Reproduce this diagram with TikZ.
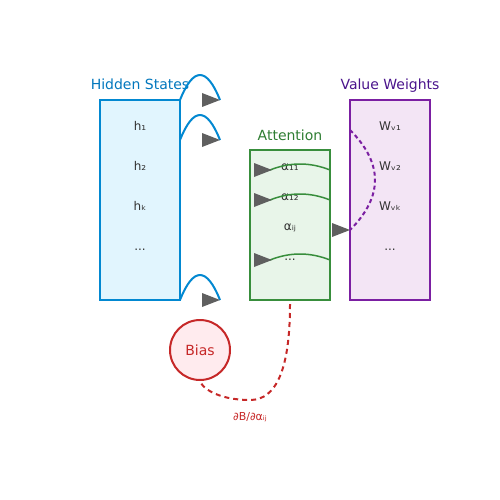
\documentclass[tikz,border=0pt]{standalone}
\usepackage{fontspec}
\setmainfont{DejaVu Sans}
\usepackage{tikz}

\definecolor{hsline}{HTML}{0288D1}
\definecolor{hsfill}{HTML}{E1F5FE}
\definecolor{hstext}{HTML}{0277BD}
\definecolor{atline}{HTML}{388E3C}
\definecolor{atfill}{HTML}{E8F5E9}
\definecolor{attext}{HTML}{2E7D32}
\definecolor{vwline}{HTML}{7B1FA2}
\definecolor{vwfill}{HTML}{F3E5F5}
\definecolor{vwtext}{HTML}{4A148C}
\definecolor{biline}{HTML}{C62828}
\definecolor{bifill}{HTML}{FFEBEE}
\definecolor{labeltext}{HTML}{333333}
\definecolor{headgray}{HTML}{5F5F5F}

\tikzset{
  colbox/.style={line width=2pt, minimum width=80pt, inner sep=0pt, outer sep=0pt},
  title/.style={anchor=base, inner sep=0pt, font=\fontsize{14}{16}\selectfont},
  entry/.style={inner sep=0pt, text height=9pt, text depth=2pt, text=labeltext, font=\fontsize{12}{14}\selectfont},
  curve/.style={line width=2pt},
}

% gray triangle with its tip at #1
\newcommand{\markhead}[1]{\fill[headgray] (#1) -- ++(-18,-7) -- ++(0,14) -- cycle;}

\begin{document}
\begin{tikzpicture}[x=1pt, y=-1pt]
	\useasboundingbox (0,0) rectangle (500,500);
	%boxes
	\node (hidden)[colbox, draw=hsline, fill=hsfill, minimum height=200pt] at (140,200) {};
	\node (attention)[colbox, draw=atline, fill=atfill, minimum height=150pt] at (290,225) {};
	\node (value)[colbox, draw=vwline, fill=vwfill, minimum height=200pt] at (390,200) {};
	\node (bias)[circle, draw=biline, fill=bifill, line width=2pt, minimum size=60pt, inner sep=0pt, outer sep=0pt,
	             text=biline, font=\fontsize{14}{16}\selectfont] at (200,350) {Bias};
	
	%titles
	\node (hstitle)[title, text=hstext] at (140,90)  {Hidden States};
	\node (attitle)[title, text=attext] at (290,140) {Attention};
	\node (vwtitle)[title, text=vwtext] at (390,90)  {Value Weights};
	
	%entries
	\node (h1)[entry] at (140,126.5)                     {h₁};
	\node (h2)[entry, below of=h1, node distance=40pt]   {h₂};
	\node (hk)[entry, below of=h2, node distance=40pt]   {hₖ};
	\node (hdots)[entry, below of=hk, node distance=40pt] {...};
	
	\node (a11)[entry] at (290,166.5)                     {α₁₁};
	\node (a12)[entry, below of=a11, node distance=30pt]  {α₁₂};
	\node (aij)[entry, below of=a12, node distance=30pt]  {αᵢⱼ};
	\node (adots)[entry, below of=aij, node distance=30pt] {...};
	
	\node (w1)[entry] at (390,126.5)                     {Wᵥ₁};
	\node (w2)[entry, below of=w1, node distance=40pt]   {Wᵥ₂};
	\node (wk)[entry, below of=w2, node distance=40pt]   {Wᵥₖ};
	\node (wdots)[entry, below of=wk, node distance=40pt] {...};
	
	\node (grad)[anchor=base, inner sep=0pt, text=biline, font=\fontsize{11}{13}\selectfont] at (250,420) {∂B/∂αᵢⱼ};
	
	%end points
	\coordinate (hs2) at (180,140);
	\coordinate (hb1) at (220,100);
	\coordinate (hb2) at (220,140);
	\coordinate (hb3) at (220,300);
	\coordinate (ga1) at (270,170);
	\coordinate (ga2) at (270,200);
	\coordinate (ga3) at (270,260);
	\coordinate (ge1) at (330,170);
	\coordinate (ge2) at (330,200);
	\coordinate (ge3) at (330,260);
	\coordinate (vw1) at (350,130);
	\coordinate (vw2) at (350,230);
	\coordinate (gs)  at (290,304);
	
	%links
	\draw[curve, hsline] (hidden.north east) .. controls (193.3,66.7) and (206.7,66.7) .. (hb1);
	\draw[curve, hsline] (hs2) .. controls (193.3,106.7) and (206.7,106.7) .. (hb2);
	\draw[curve, hsline] (hidden.south east) .. controls (193.3,266.7) and (206.7,266.7) .. (hb3);
	
	\draw[curve, atline, line width=1.5pt] (ga1) .. controls (290,162) and (310,162) .. (ge1);
	\draw[curve, atline, line width=1.5pt] (ga2) .. controls (290,192) and (310,192) .. (ge2);
	\draw[curve, atline, line width=1.5pt] (ga3) .. controls (290,252) and (310,252) .. (ge3);
	
	\draw[curve, vwline, dash pattern=on 4pt off 3pt] (vw1) .. controls (383.3,163.3) and (383.3,196.7) .. (vw2);
	
	\draw[curve, biline, dash pattern=on 5pt off 4pt] (gs) .. controls (290,368.3) and (276.7,400) .. (250,400)
	      .. controls (216.7,400) and (200,386.7) .. (bias.south);
	
	%heads
	\markhead{hb1}
	\markhead{hb2}
	\markhead{hb3}
	\markhead{[xshift=2pt]ga1}
	\markhead{[xshift=2pt]ga2}
	\markhead{[xshift=2pt]ga3}
	\markhead{vw2}
\end{tikzpicture}
\end{document}
